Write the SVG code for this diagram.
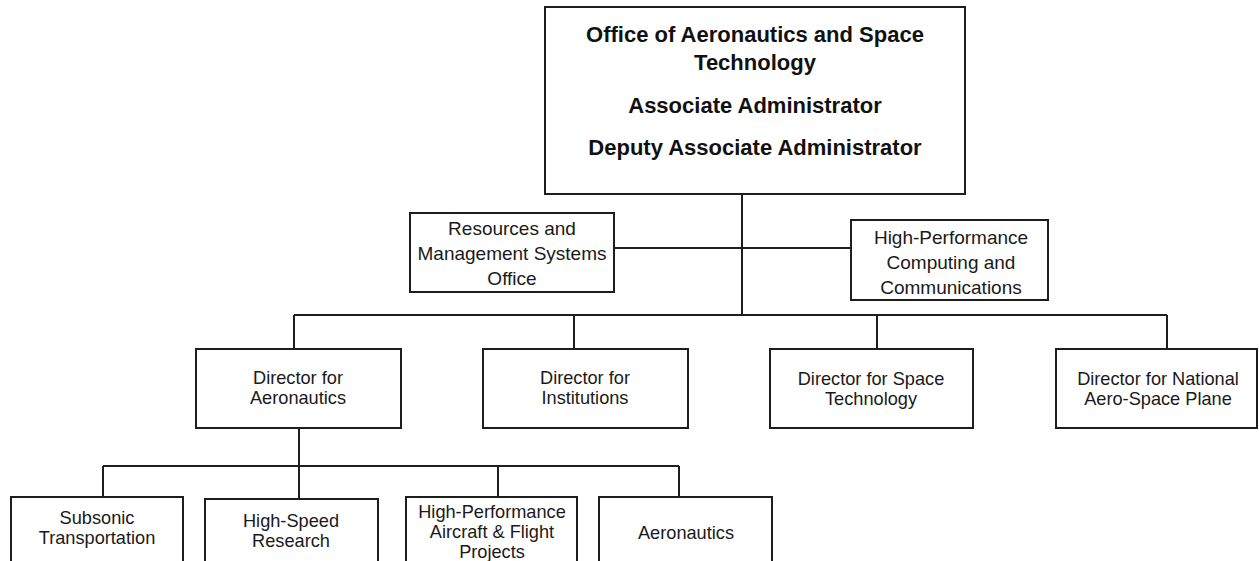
<svg xmlns="http://www.w3.org/2000/svg" width="1259" height="561" viewBox="0 0 1259 561">
<style>
.box{fill:#fff;stroke:#1e1e1e;stroke-width:2}
.ln{fill:none;stroke:#1e1e1e;stroke-width:2}
.t{font-family:"Liberation Sans",Arial,sans-serif;font-size:18.2px;fill:#1a1a1a;text-anchor:middle}
.tb{font-family:"Liberation Sans",Arial,sans-serif;font-size:22px;font-weight:bold;fill:#111;text-anchor:middle}
.tm{font-size:19px}
</style>
<rect width="1259" height="561" fill="#fff"/>
<g id="connectors">
<path class="ln" d="M742,194 V315"/>
<path class="ln" d="M614,248 H851"/>
<path class="ln" d="M294,315 H1167"/>
<path class="ln" d="M294,315 V349 M574,315 V349 M877,315 V349 M1167,315 V349"/>
<path class="ln" d="M299,428 V466"/>
<path class="ln" d="M103,466 H679"/>
<path class="ln" d="M103,466 V497 M299,466 V499 M498,466 V497 M679,466 V497"/>
</g>
<g id="office">
<rect class="box" x="545" y="7" width="420" height="187"/>
<text class="tb" x="755" y="42">Office of Aeronautics and Space</text>
<text class="tb" x="755" y="70">Technology</text>
<text class="tb" x="755" y="113">Associate Administrator</text>
<text class="tb" x="755" y="155">Deputy Associate Administrator</text>
</g>
<g id="resources">
<rect class="box" x="410" y="213" width="204" height="79"/>
<text class="t tm" x="512" y="235">Resources and</text>
<text class="t tm" x="512" y="260">Management Systems</text>
<text class="t tm" x="512" y="285">Office</text>
</g>
<g id="hpcc">
<rect class="box" x="851" y="220" width="197" height="80"/>
<text class="t tm" x="951" y="244">High-Performance</text>
<text class="t tm" x="951" y="269">Computing and</text>
<text class="t tm" x="951" y="294">Communications</text>
</g>
<g id="dir-aeronautics">
<rect class="box" x="196" y="349" width="205" height="79"/>
<text class="t" x="298" y="384">Director for</text>
<text class="t" x="298" y="404">Aeronautics</text>
</g>
<g id="dir-institutions">
<rect class="box" x="483" y="349" width="205" height="79"/>
<text class="t" x="585" y="384">Director for</text>
<text class="t" x="585" y="404">Institutions</text>
</g>
<g id="dir-space">
<rect class="box" x="770" y="349" width="203" height="79"/>
<text class="t" x="871" y="385">Director for Space</text>
<text class="t" x="871" y="405">Technology</text>
</g>
<g id="dir-nasp">
<rect class="box" x="1056" y="349" width="201" height="79"/>
<text class="t" x="1158" y="385">Director for National</text>
<text class="t" x="1158" y="405">Aero-Space Plane</text>
</g>
<g id="subsonic">
<rect class="box" x="11" y="497" width="172" height="80"/>
<text class="t" x="97" y="524">Subsonic</text>
<text class="t" x="97" y="544">Transportation</text>
</g>
<g id="highspeed">
<rect class="box" x="205" y="499" width="173" height="80"/>
<text class="t" x="291" y="527">High-Speed</text>
<text class="t" x="291" y="547">Research</text>
</g>
<g id="hpafp">
<rect class="box" x="406" y="497" width="171" height="80"/>
<text class="t" x="492" y="518">High-Performance</text>
<text class="t" x="492" y="538">Aircraft &amp; Flight</text>
<text class="t" x="492" y="558">Projects</text>
</g>
<g id="aeronautics">
<rect class="box" x="599" y="497" width="173" height="80"/>
<text class="t" x="686" y="539">Aeronautics</text>
</g>
</svg>
